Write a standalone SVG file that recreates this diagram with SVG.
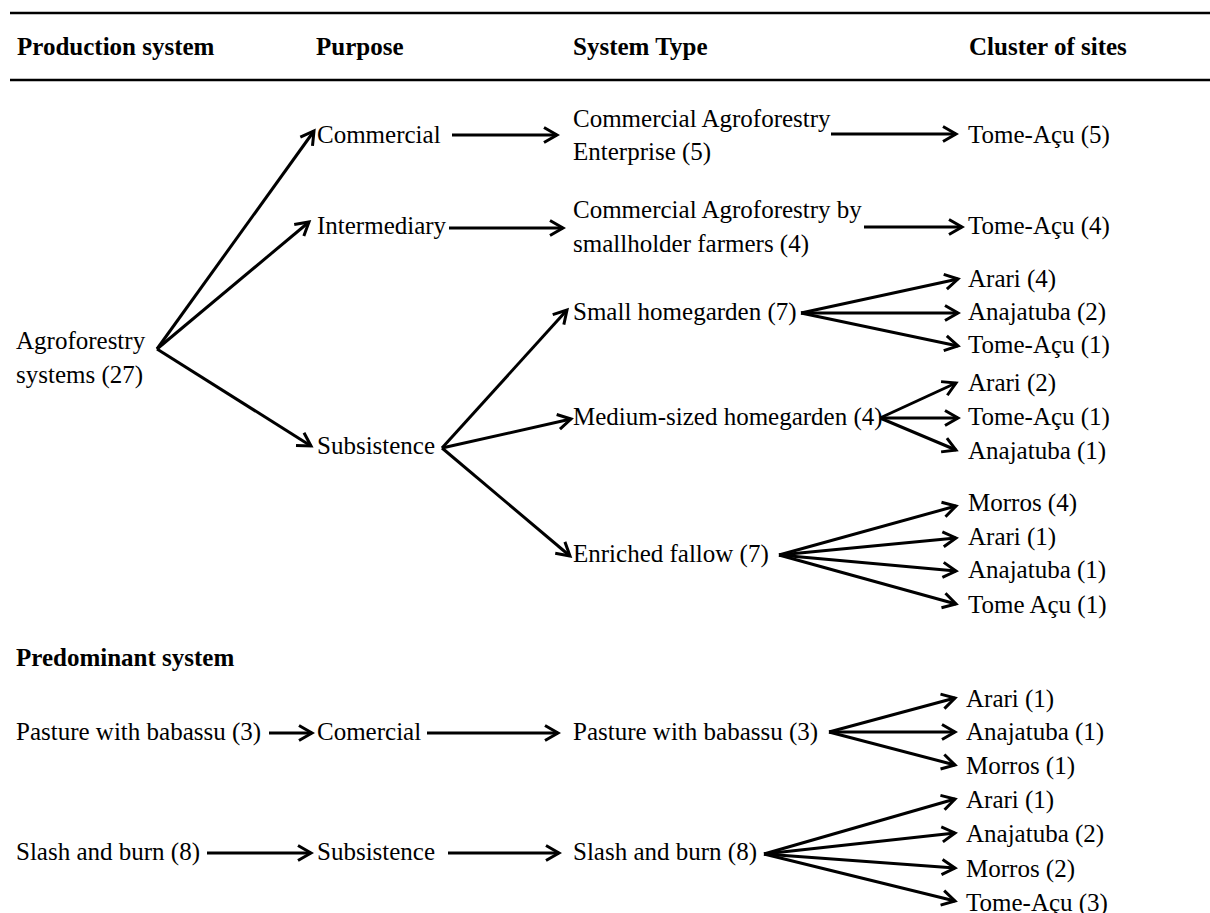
<svg xmlns="http://www.w3.org/2000/svg" width="1210" height="913" viewBox="0 0 1210 913">
<defs>
<marker id="ah" markerUnits="userSpaceOnUse" markerWidth="20" markerHeight="20" viewBox="0 0 20 20" refX="16" refY="10" orient="auto">
<path d="M3,2.5 L16,10 L3,17.5" fill="none" stroke="#000" stroke-width="3"/>
</marker>
<style>
text{font-family:"Liberation Serif","Times New Roman",serif;font-size:25px;fill:#000}
.h{font-weight:bold}
.c line{stroke:#000;stroke-width:3;marker-end:url(#ah)}
.rule{stroke:#000;stroke-width:2.7}
</style>
</defs>
<rect width="1210" height="913" fill="#fff"/>
<g id="header">
<line class="rule" x1="10" y1="13" x2="1210" y2="13"/>
<line class="rule" x1="10" y1="80" x2="1210" y2="80"/>
<text class="h" x="17" y="55">Production system</text>
<text class="h" x="316" y="55">Purpose</text>
<text class="h" x="573" y="55">System Type</text>
<text class="h" x="969" y="55">Cluster of sites</text>
</g>
<g id="n-agro"><text x="16" y="349">Agroforestry</text><text x="16" y="383">systems (27)</text></g>
<g id="n-commercial"><text x="317" y="143">Commercial</text></g>
<g id="n-intermediary"><text x="317" y="234">Intermediary</text></g>
<g id="n-subsistence"><text x="317" y="454">Subsistence</text></g>
<g id="n-cae"><text x="573" y="127">Commercial Agroforestry</text><text x="573" y="160">Enterprise (5)</text></g>
<g id="n-cas"><text x="573" y="218">Commercial Agroforestry by</text><text x="573" y="252">smallholder farmers (4)</text></g>
<g id="n-small"><text x="573" y="320">Small homegarden (7)</text></g>
<g id="n-medium"><text x="573" y="425">Medium-sized homegarden (4)</text></g>
<g id="n-enriched"><text x="573" y="562">Enriched fallow (7)</text></g>
<g id="n-tome5"><text x="968" y="143">Tome-Açu (5)</text></g>
<g id="n-tome4"><text x="968" y="234">Tome-Açu (4)</text></g>
<g id="n-s-arari4"><text x="968" y="287">Arari (4)</text></g>
<g id="n-s-anaj2"><text x="968" y="320">Anajatuba (2)</text></g>
<g id="n-s-tome1"><text x="968" y="353">Tome-Açu (1)</text></g>
<g id="n-m-arari2"><text x="968" y="391">Arari (2)</text></g>
<g id="n-m-tome1"><text x="968" y="425">Tome-Açu (1)</text></g>
<g id="n-m-anaj1"><text x="968" y="459">Anajatuba (1)</text></g>
<g id="n-e-morros4"><text x="968" y="511">Morros (4)</text></g>
<g id="n-e-arari1"><text x="968" y="545">Arari (1)</text></g>
<g id="n-e-anaj1"><text x="968" y="578">Anajatuba (1)</text></g>
<g id="n-e-tome1"><text x="968" y="613">Tome Açu (1)</text></g>
<g id="n-predominant"><text class="h" x="16" y="666">Predominant system</text></g>
<g id="n-pasture"><text x="16" y="740">Pasture with babassu (3)</text></g>
<g id="n-comercial"><text x="317" y="740">Comercial</text></g>
<g id="n-pasture2"><text x="573" y="740">Pasture with babassu (3)</text></g>
<g id="n-p-arari1"><text x="966" y="707">Arari (1)</text></g>
<g id="n-p-anaj1"><text x="966" y="740">Anajatuba (1)</text></g>
<g id="n-p-morros1"><text x="966" y="774">Morros (1)</text></g>
<g id="n-slash"><text x="16" y="860">Slash and burn (8)</text></g>
<g id="n-subsistence2"><text x="317" y="860">Subsistence</text></g>
<g id="n-slash2"><text x="573" y="860">Slash and burn (8)</text></g>
<g id="n-sl-arari1"><text x="966" y="808">Arari (1)</text></g>
<g id="n-sl-anaj2"><text x="966" y="842">Anajatuba (2)</text></g>
<g id="n-sl-morros2"><text x="966" y="877">Morros (2)</text></g>
<g id="n-sl-tome3"><text x="966" y="911">Tome-Açu (3)</text></g>
<g id="connectors" class="c">
<line x1="157" y1="349" x2="314" y2="131"/>
<line x1="157" y1="349" x2="309" y2="222"/>
<line x1="157" y1="349" x2="311" y2="446"/>
<line x1="452" y1="135" x2="557" y2="135"/>
<line x1="449" y1="228" x2="563" y2="228"/>
<line x1="831" y1="134" x2="956" y2="134"/>
<line x1="864" y1="227" x2="962" y2="227"/>
<line x1="442" y1="448" x2="567" y2="310"/>
<line x1="442" y1="448" x2="571" y2="419"/>
<line x1="442" y1="448" x2="570" y2="556"/>
<line x1="801" y1="313" x2="958" y2="279"/>
<line x1="801" y1="313" x2="958" y2="313"/>
<line x1="801" y1="313" x2="958" y2="346"/>
<line x1="880" y1="418" x2="956" y2="383"/>
<line x1="880" y1="418" x2="958" y2="418"/>
<line x1="880" y1="418" x2="956" y2="450"/>
<line x1="779" y1="555" x2="956" y2="506"/>
<line x1="779" y1="555" x2="956" y2="538"/>
<line x1="779" y1="555" x2="956" y2="571"/>
<line x1="779" y1="555" x2="956" y2="604"/>
<line x1="269" y1="733" x2="312" y2="733"/>
<line x1="427" y1="733" x2="558" y2="733"/>
<line x1="829" y1="732" x2="955" y2="698"/>
<line x1="829" y1="732" x2="955" y2="732"/>
<line x1="829" y1="732" x2="955" y2="765"/>
<line x1="207" y1="853" x2="311" y2="853"/>
<line x1="448" y1="853" x2="559" y2="853"/>
<line x1="764" y1="854" x2="955" y2="799"/>
<line x1="764" y1="854" x2="955" y2="833"/>
<line x1="764" y1="854" x2="955" y2="868"/>
<line x1="764" y1="854" x2="955" y2="901"/>
</g>
</svg>
